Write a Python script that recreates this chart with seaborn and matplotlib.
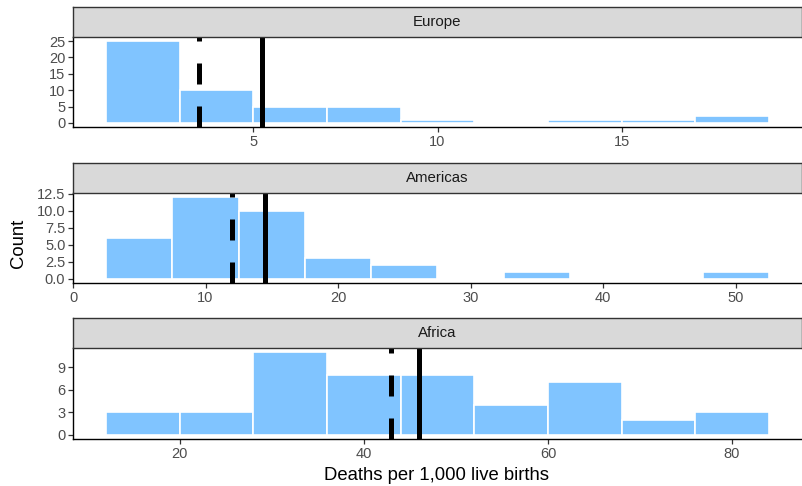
import numpy as np
import pandas as pd
import matplotlib
matplotlib.use("Agg")
import matplotlib.pyplot as plt
import seaborn as sns

sns.set_style("white")
plt.rcParams['font.family'] = ['Liberation Sans', 'DejaVu Sans']

# histogram data (bin edges + counts per bin)
regions = ["Europe", "Americas", "Africa"]
europe_edges = [1, 3, 5, 7, 9, 11, 13, 15, 17, 19]
europe_counts = [25, 10, 5, 5, 1, 0, 1, 1, 2]
americas_edges = [2.5, 7.5, 12.5, 17.5, 22.5, 27.5, 32.5, 37.5, 42.5, 47.5, 52.5]
americas_counts = [6, 12, 10, 3, 2, 0, 1, 0, 0, 1]
africa_edges = [12, 20, 28, 36, 44, 52, 60, 68, 76, 84]
africa_counts = [3, 3, 11, 8, 8, 4, 7, 2, 3]

# mean (solid) and median (dashed) per region
means = [5.24, 14.45, 46.0]
medians = [3.52, 12.0, 43.0]

xticks = [[5, 10, 15], [0, 10, 20, 30, 40, 50], [20, 40, 60, 80]]
yticks = [[0, 5, 10, 15, 20, 25], [0, 2.5, 5, 7.5, 10, 12.5], [0, 3, 6, 9]]
ytick_labels = [["0", "5", "10", "15", "20", "25"],
                ["0.0", "2.5", "5.0", "7.5", "10.0", "12.5"],
                ["0", "3", "6", "9"]]

edges_all = [europe_edges, americas_edges, africa_edges]
counts_all = [europe_counts, americas_counts, africa_counts]

W, H = 802, 486
fig = plt.figure(figsize=(W / 100, H / 100), dpi=100)

def box(x0, y0, x1, y1):
    # pixel box (top-left origin) -> figure fraction
    return [x0 / W, 1 - y1 / H, (x1 - x0) / W, (y1 - y0) / H]

# (strip top, panel top, panel bottom) in pixels
layout = [(7, 37, 127), (163, 193, 283), (318, 348, 439)]
left, right = 73, 802

bar_color = "#80c4ff"

for i, reg in enumerate(regions):
    st, pt, pb = layout[i]
    edges = edges_all[i]
    counts = counts_all[i]
    mids = [(a + b) / 2 for a, b in zip(edges[:-1], edges[1:])]
    df = pd.DataFrame({"mid": mids, "n": counts})

    ax = fig.add_axes(box(left, pt, right, pb))
    sns.histplot(data=df, x="mid", weights="n", bins=edges, ax=ax,
                 color=bar_color, edgecolor="white", linewidth=1.2, alpha=1)
    ax.axvline(means[i], color="black", lw=3.6, zorder=5)
    ax.axvline(medians[i], color="black", lw=3.6, ls=(0, (4.2, 4.4)), zorder=5)

    span = edges[-1] - edges[0]
    ax.set_xlim(edges[0] - 0.05 * span, edges[-1] + 0.05 * span)
    top = max(counts)
    ax.set_ylim(-0.05 * top, top * 1.05)
    ax.set_xticks(xticks[i])
    ax.set_yticks(yticks[i])
    ax.set_yticklabels(ytick_labels[i])
    ax.set_xlabel("")
    ax.set_ylabel("")
    for s in ["top", "right"]:
        ax.spines[s].set_visible(False)
    for s in ["left", "bottom"]:
        ax.spines[s].set_color("black")
        ax.spines[s].set_linewidth(1.0)
    ax.tick_params(axis="both", length=3.5, width=0.9, color="#333333",
                   labelsize=10.5, labelcolor="#4d4d4d", pad=2,
                   left=True, bottom=True)

    sax = fig.add_axes(box(left, st, right, pt))
    sax.set_facecolor("#d9d9d9")
    sax.set_xticks([])
    sax.set_yticks([])
    for s in sax.spines.values():
        s.set_visible(True)
        s.set_color("#333333")
        s.set_linewidth(1.0)
    sax.text(0.5, 0.5, reg, ha="center", va="center", fontsize=10.8,
             color="#1a1a1a", transform=sax.transAxes)

fig.text(18 / W, 1 - 243 / H, "Count", rotation=90, ha="center", va="center",
         fontsize=13.3, color="black")
fig.text(437 / W, 1 - 475 / H, "Deaths per 1,000 live births", ha="center",
         va="center", fontsize=13.3, color="black")

fig.savefig("out.png", dpi=100)
